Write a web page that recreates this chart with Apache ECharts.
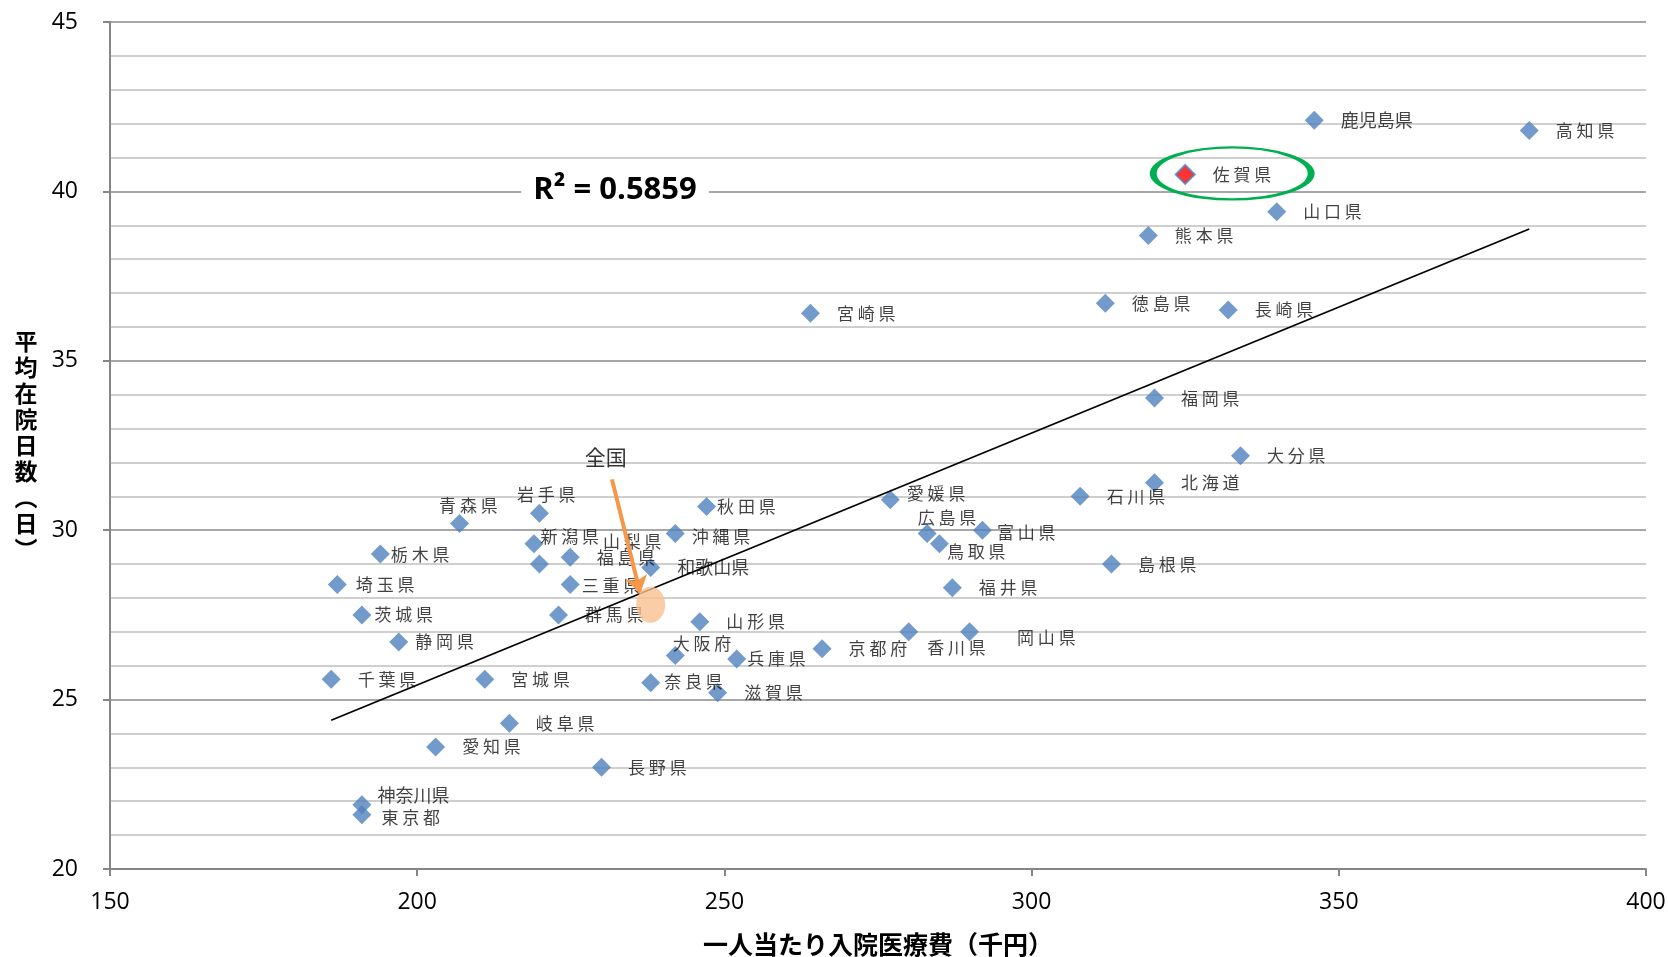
<!DOCTYPE html>
<html lang="ja">
<head>
<meta charset="utf-8">
<title>一人当たり入院医療費と平均在院日数</title>
<script src="https://cdn.jsdelivr.net/npm/echarts@6/dist/echarts.min.js"></script>
<style>
  html, body { margin: 0; padding: 0; background: #fff; }
  #chart { width: 1668px; height: 957px; }
</style>
</head>
<body>
<div id="chart"></div>
<script>
// 都道府県別：一人当たり入院医療費（千円）と平均在院日数（日）
const prefectures = [
  '北海道', '青森県', '岩手県', '宮城県', '秋田県', '山形県', '福島県',
  '茨城県', '栃木県', '群馬県', '埼玉県', '千葉県', '東京都', '神奈川県',
  '新潟県', '富山県', '石川県', '福井県', '山梨県', '長野県', '岐阜県',
  '静岡県', '愛知県', '三重県', '滋賀県', '京都府', '大阪府', '兵庫県',
  '奈良県', '和歌山県', '鳥取県', '島根県', '岡山県', '広島県', '山口県',
  '徳島県', '香川県', '愛媛県', '高知県', '福岡県', '佐賀県', '長崎県',
  '熊本県', '大分県', '宮崎県', '鹿児島県', '沖縄県'
];
const costs = [
  320.0, 206.9, 219.9, 211.0, 247.1, 246.0, 224.9,
  191.0, 194.0, 223.0, 187.0, 186.0, 191.0, 191.0,
  219.0, 292.0, 307.9, 287.1, 219.9, 230.0, 215.0,
  197.0, 203.0, 224.9, 248.9, 265.9, 242.0, 252.0,
  238.0, 238.0, 285.0, 313.0, 289.9, 283.0, 339.9,
  312.0, 280.0, 277.0, 381.0, 320.0, 325.0, 332.0,
  319.0, 334.0, 264.0, 346.0, 242.0
];
const stayDays = [
  31.4, 30.2, 30.5, 25.6, 30.7, 27.3, 29.2,
  27.5, 29.3, 27.5, 28.4, 25.6, 21.6, 21.9,
  29.6, 30.0, 31.0, 28.3, 29.0, 23.0, 24.3,
  26.7, 23.6, 28.4, 25.2, 26.5, 26.3, 26.2,
  25.5, 28.9, 29.6, 29.0, 27.0, 29.9, 39.4,
  36.7, 27.0, 30.9, 41.8, 33.9, 40.5, 36.5,
  38.7, 32.2, 36.4, 42.1, 29.9
];
const nationalName = '全国';
const nationalPoint = [238.0, 27.8];
const highlighted = '佐賀県';
const r2Text = 'R² = 0.5859';

const xTicks = [150, 200, 250, 300, 350, 400];
const yTicks = [20, 25, 30, 35, 40, 45];

// Label placement tweaks (pixels) for crowded points; others sit right of the marker
const labelShift = {
  '青森県': [-47, -18], '岩手県': [-49, -19], '新潟県': [-20, -7], '栃木県': [-16, 1],
  '山梨県': [37, -23], '埼玉県': [-8, 0], '三重県': [-15, 1], '茨城県': [-14, 0],
  '静岡県': [-10, 0], '秋田県': [-16, 0], '沖縄県': [-10, 3], '大阪府': [-29, -12],
  '兵庫県': [-16, 0], '奈良県': [-13, -1], '愛媛県': [-10, -6], '広島県': [-36, -16],
  '鳥取県': [-19, 8], '富山県': [-12, 2], '香川県': [-8, 16], '岡山県': [21, 6],
  '神奈川県': [-11, -9], '東京都': [-7, 3]
};
// Names drawn without extra spacing between characters
const tightNames = ['鹿児島県', '神奈川県', '和歌山県'];

// Annotation anchors in data space
const arrowFrom = [231.7, 31.5];
const arrowTo = [236.3, 28.14];
const r2Anchor = [232.2, 40.05];

// Least-squares linear trend
function linearFit(xs, ys) {
  const n = xs.length;
  const mx = xs.reduce((s, v) => s + v, 0) / n;
  const my = ys.reduce((s, v) => s + v, 0) / n;
  let sxy = 0, sxx = 0;
  for (let i = 0; i < n; i++) {
    sxy += (xs[i] - mx) * (ys[i] - my);
    sxx += (xs[i] - mx) * (xs[i] - mx);
  }
  const slope = sxy / sxx;
  return { slope, intercept: my - slope * mx };
}
const fit = linearFit(costs, stayDays);
const xMin = Math.min(...costs), xMax = Math.max(...costs);
const trendData = [
  [xMin, fit.intercept + fit.slope * xMin],
  [xMax, fit.intercept + fit.slope * xMax]
];

const CJK = '"Noto Sans CJK JP", "Noto Sans CJK SC", sans-serif';
const LATIN = '"Open Sans", "Liberation Sans", sans-serif';

const pointData = prefectures.map((name, i) => {
  const item = { name, value: [costs[i], stayDays[i]] };
  const tight = tightNames.includes(name);
  item.label = {
    offset: labelShift[name] || [0, 0],
    fontSize: tight ? 18 : 17
  };
  if (name === highlighted) {
    item.itemStyle = { color: '#FF0000', borderColor: '#4F81BD', borderWidth: 2 };
  }
  return item;
});
const sagaIndex = prefectures.indexOf(highlighted);

const chart = echarts.init(document.getElementById('chart'), null, { renderer: 'canvas' });

chart.setOption({
  backgroundColor: '#ffffff',
  animation: false,
  grid: { left: 110, right: 22, top: 22, bottom: 88, containLabel: false, outerBoundsMode: 'none' },
  xAxis: {
    type: 'value',
    min: xTicks[0], max: xTicks[xTicks.length - 1], interval: xTicks[1] - xTicks[0],
    name: '一人当たり入院医療費（千円）',
    nameLocation: 'middle', nameGap: 75,
    nameTextStyle: { fontFamily: CJK, fontWeight: 'bold', fontSize: 25, color: '#000', verticalAlign: 'middle' },
    axisLine: { show: true, lineStyle: { color: '#868686', width: 2 } },
    axisTick: { show: true, length: 7, lineStyle: { color: '#868686', width: 2 } },
    axisLabel: { margin: 22, fontFamily: LATIN, fontSize: 23, color: '#000' },
    splitLine: { show: false }
  },
  yAxis: {
    type: 'value',
    min: yTicks[0], max: yTicks[yTicks.length - 1], interval: yTicks[1] - yTicks[0],
    name: '平\n均\n在\n院\n日\n数\n︵\n日\n︶',
    nameLocation: 'middle', nameRotate: 0, nameGap: 84,
    nameTextStyle: {
      fontFamily: CJK, fontWeight: 'bold', fontSize: 23, lineHeight: 26,
      color: '#000', align: 'center', verticalAlign: 'middle'
    },
    axisLine: { show: true, lineStyle: { color: '#868686', width: 2 } },
    axisTick: { show: true, length: 7, lineStyle: { color: '#868686', width: 2 } },
    axisLabel: { margin: 32, fontFamily: LATIN, fontSize: 23, color: '#000' },
    splitLine: { show: true, lineStyle: { color: '#8a8a8a', width: 1.5 } },
    minorTick: { show: false, splitNumber: 5 },
    minorSplitLine: { show: true, lineStyle: { color: '#c0c0c0', width: 1.5 } }
  },
  series: [
    {
      name: '都道府県',
      type: 'scatter',
      z: 2,
      symbol: 'diamond',
      symbolSize: 19,
      itemStyle: { color: '#4F81BD' },
      label: {
        show: true,
        position: 'right',
        distance: 17,
        color: '#111',
        fontFamily: CJK,
        formatter: p => tightNames.includes(p.name) ? p.name : p.name.split('').join(' ')
      },
      emphasis: { disabled: true },
      data: pointData,
      markPoint: {
        silent: true,
        symbol: 'circle',
        symbolSize: [158, 52],
        symbolOffset: [47, -1],
        itemStyle: { color: 'rgba(0,0,0,0)', borderColor: '#00B050', borderWidth: 4 },
        label: { show: false },
        data: [{ coord: [costs[sagaIndex], stayDays[sagaIndex]] }]
      }
    },
    {
      name: '線形近似',
      type: 'line',
      z: 3,
      showSymbol: false,
      symbol: 'none',
      silent: true,
      lineStyle: { color: '#000', width: 1.8 },
      data: trendData,
      markPoint: {
        silent: true,
        symbol: 'circle',
        symbolSize: 1,
        itemStyle: { color: 'rgba(0,0,0,0)' },
        label: {
          show: true,
          position: 'inside',
          formatter: r2Text,
          fontFamily: LATIN,
          fontWeight: 'bold',
          fontSize: 31,
          color: '#000',
          backgroundColor: '#ffffff',
          padding: [2, 12]
        },
        data: [{ coord: r2Anchor }]
      }
    },
    {
      name: nationalName,
      type: 'scatter',
      z: 6,
      symbol: 'circle',
      symbolSize: [29, 36],
      itemStyle: { color: '#FAC090' },
      label: {
        show: true,
        position: 'inside',
        offset: [-45, -148],
        formatter: nationalName,
        fontFamily: CJK,
        fontSize: 21,
        color: '#000'
      },
      emphasis: { disabled: true },
      data: [nationalPoint],
      markLine: {
        silent: true,
        symbol: ['none', 'arrow'],
        symbolSize: 17,
        label: { show: false },
        lineStyle: { color: '#F79646', width: 4, type: 'solid' },
        data: [[{ coord: arrowFrom }, { coord: arrowTo }]]
      }
    }
  ]
});
</script>
</body>
</html>
